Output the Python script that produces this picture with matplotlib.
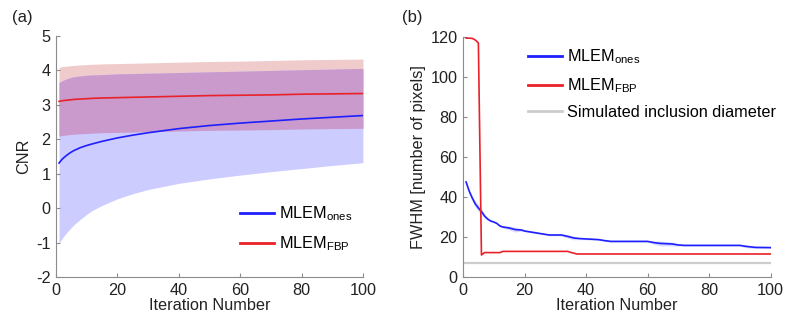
import matplotlib
matplotlib.use("Agg")
import matplotlib.pyplot as plt

plt.rcParams['font.family'] = ['Liberation Sans', 'DejaVu Sans']
plt.rcParams['mathtext.fontset'] = 'custom'
plt.rcParams['mathtext.rm'] = 'Liberation Sans'
plt.rcParams['mathtext.it'] = 'Liberation Sans'
plt.rcParams['axes.unicode_minus'] = False

# (a) CNR vs iteration
iters_a = [1, 2, 3, 4, 5, 6, 8, 10, 12, 15, 20, 25, 30, 40, 50, 60, 70, 80, 90, 100]
cnr_ones = [1.31, 1.42, 1.5, 1.57, 1.63, 1.68, 1.76, 1.82, 1.87, 1.94, 2.04, 2.12, 2.19, 2.31, 2.4, 2.47, 2.53, 2.59, 2.64, 2.69]
cnr_ones_hi = [3.65, 3.7, 3.74, 3.77, 3.8, 3.82, 3.84, 3.86, 3.87, 3.88, 3.9, 3.91, 3.92, 3.94, 3.96, 3.98, 4.0, 4.02, 4.04, 4.06]
cnr_ones_lo = [-1.02, -0.88, -0.76, -0.66, -0.56, -0.47, -0.32, -0.18, -0.06, 0.08, 0.27, 0.42, 0.54, 0.72, 0.85, 0.96, 1.06, 1.15, 1.24, 1.32]
cnr_fbp = [3.1, 3.12, 3.13, 3.14, 3.15, 3.16, 3.17, 3.18, 3.19, 3.2, 3.21, 3.22, 3.23, 3.25, 3.27, 3.28, 3.29, 3.31, 3.32, 3.33]
cnr_fbp_hi = [4.09, 4.11, 4.12, 4.13, 4.14, 4.15, 4.16, 4.17, 4.18, 4.19, 4.2, 4.21, 4.22, 4.24, 4.26, 4.27, 4.29, 4.31, 4.32, 4.33]
cnr_fbp_lo = [2.09, 2.11, 2.12, 2.13, 2.14, 2.15, 2.16, 2.17, 2.18, 2.19, 2.2, 2.21, 2.22, 2.24, 2.26, 2.27, 2.28, 2.3, 2.31, 2.32]

# (b) FWHM vs iteration
iters_b_ones = [1, 2, 3, 4, 5, 6, 7, 8, 9, 10, 11, 12, 13, 15, 17, 19, 20, 22, 24, 26, 28, 32, 34, 36, 38, 44, 46, 48, 60, 62, 64, 68, 70, 72, 90, 92, 95, 100]
fwhm_ones = [47.5, 43, 39.5, 36.5, 34.5, 32.7, 30.5, 29, 28, 27.5, 26.8, 25.5, 25, 24.5, 23.7, 23.5, 23, 22.5, 22, 21.5, 21, 21, 20.3, 19.5, 19.2, 18.7, 18.2, 17.8, 17.8, 17.2, 16.8, 16.5, 16, 15.8, 15.8, 15.3, 14.8, 14.7]
fwhm_ones_sd = [0.5, 0.8, 1.2, 1.5, 1.8, 1.5, 1.0, 0.6, 0.5, 0.4, 0.4, 0.5, 0.6, 1.0, 1.2, 0.6, 0.4, 0.4, 0.4, 0.4, 0.4, 0.5, 0.9, 0.9, 0.5, 0.4, 0.4, 0.4, 0.4, 0.8, 1.2, 1.0, 0.5, 0.4, 0.4, 0.7, 0.5, 0.4]
iters_b_fbp = [1, 3, 4, 5, 6, 7, 12, 13, 34, 35, 37, 100]
fwhm_fbp = [119.5, 119.3, 118.5, 117, 11, 12.2, 12.2, 12.8, 12.8, 12.3, 11.5, 11.5]
inclusion_diam = 7.2

blue = '#1f1fff'
red = '#e8212a'
spine_col = '#8c8c8c'
txt = '#222222'
fs = 11.7

fig = plt.figure(figsize=(7.85, 3.2), dpi=100)
ax1 = fig.add_axes([0.0713, 0.1344, 0.391, 0.753])
ax2 = fig.add_axes([0.5898, 0.1344, 0.392, 0.750])


def style(ax):
    for s in ['top', 'right']:
        ax.spines[s].set_visible(False)
    for s in ['left', 'bottom']:
        ax.spines[s].set_color(spine_col)
        ax.spines[s].set_linewidth(0.8)
    ax.tick_params(direction='in', length=3, width=0.8, color=spine_col,
                   labelsize=fs, labelcolor=txt, pad=4)


# panel a: shaded bands, overlap in its own colour
ov_lo = [max(a, b) for a, b in zip(cnr_ones_lo, cnr_fbp_lo)]
ov_hi = [min(a, b) for a, b in zip(cnr_ones_hi, cnr_fbp_hi)]
ax1.fill_between(iters_a, cnr_fbp_lo, cnr_fbp_hi, color='#f0cbcb', lw=0)
ax1.fill_between(iters_a, cnr_ones_lo, cnr_ones_hi, color='#ccccfe', lw=0)
ax1.fill_between(iters_a, ov_lo, ov_hi, color='#ca9acc', lw=0)
ax1.plot(iters_a, cnr_ones, color=blue, lw=1.2, label='MLEM$_{\\mathrm{ones}}$')
ax1.plot(iters_a, cnr_fbp, color=red, lw=1.2, label='MLEM$_{\\mathrm{FBP}}$')
ax1.set_xlim(0, 100)
ax1.set_ylim(-2, 5)
ax1.set_xticks([0, 20, 40, 60, 80, 100])
ax1.set_yticks([-2, -1, 0, 1, 2, 3, 4, 5])
ax1.set_xlabel('Iteration Number', fontsize=fs, color=txt, labelpad=0)
ax1.set_ylabel('CNR', fontsize=fs, color=txt, labelpad=3)
style(ax1)
leg1 = ax1.legend(loc='upper left', bbox_to_anchor=(0.6, 0.30), frameon=False,
                  fontsize=fs, handlelength=2.1, handletextpad=0.3,
                  labelspacing=0.7, borderpad=0, borderaxespad=0)
for h in leg1.get_lines():
    h.set_linewidth(2)
fig.text(0.015, 0.945, '(a)', fontsize=12, color=txt, va='center')

# panel b
fwhm_lo = [m - s for m, s in zip(fwhm_ones, fwhm_ones_sd)]
fwhm_hi = [m + s for m, s in zip(fwhm_ones, fwhm_ones_sd)]
ax2.fill_between(iters_b_ones, fwhm_lo, fwhm_hi, color='#0000ff', alpha=0.15, lw=0)
ax2.plot(iters_b_ones, fwhm_ones, color=blue, lw=1.2, label='MLEM$_{\\mathrm{ones}}$')
ax2.plot(iters_b_fbp, fwhm_fbp, color=red, lw=1.2, label='MLEM$_{\\mathrm{FBP}}$')
ax2.axhline(inclusion_diam, color='#cccccc', lw=1.6, label='Simulated inclusion diameter')
ax2.set_xlim(0, 100)
ax2.set_ylim(0, 120)
ax2.set_xticks([0, 20, 40, 60, 80, 100])
ax2.set_yticks([0, 20, 40, 60, 80, 100, 120])
ax2.set_xlabel('Iteration Number', fontsize=fs, color=txt, labelpad=0)
ax2.set_ylabel('FWHM [number of pixels]', fontsize=fs, color=txt, labelpad=3)
style(ax2)
leg2 = ax2.legend(loc='upper left', bbox_to_anchor=(0.212, 0.955), frameon=False,
                  fontsize=fs, handlelength=2.1, handletextpad=0.3,
                  labelspacing=0.6, borderpad=0, borderaxespad=0)
for h in leg2.get_lines():
    h.set_linewidth(2)
fig.text(0.512, 0.945, '(b)', fontsize=12, color=txt, va='center')

fig.savefig('out.png', dpi=100)
